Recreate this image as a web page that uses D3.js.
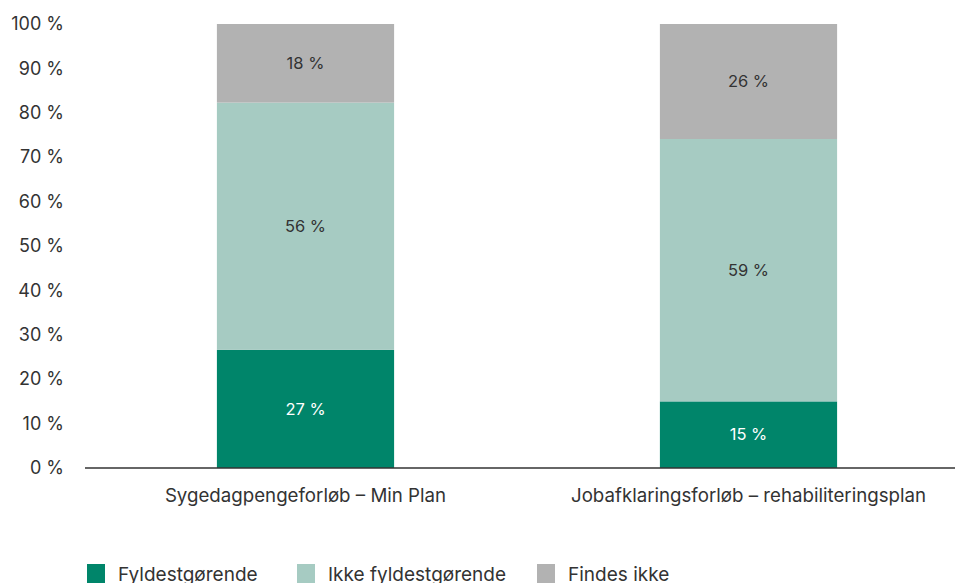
<!DOCTYPE html>
<html><head><meta charset="utf-8">
<script src="https://cdn.jsdelivr.net/npm/d3@7"></script>
<style>
html,body{margin:0;padding:0;background:#fff;}
svg{display:block;font-family:Inter, "Liberation Sans", sans-serif;}
</style></head>
<body>
<svg id="chart" width="955" height="583"></svg>
<script>
const categories = ["Sygedagpengeforløb – Min Plan", "Jobafklaringsforløb – rehabiliteringsplan"];
const seriesNames = ["Fyldestgørende", "Ikke fyldestgørende", "Findes ikke"];
const fyldestgorende = [26.6, 15.0];
const ikkeFyldestgorende = [55.7, 59.1];
const findesIkke = [17.7, 25.9];
const yTicks = [0, 10, 20, 30, 40, 50, 60, 70, 80, 90, 100];
const colors = ["#00856a", "#a6cbc2", "#b2b2b2"];
const labelColors = ["#ffffff", "#333333", "#333333"];

const seriesValues = [fyldestgorende, ikkeFyldestgorende, findesIkke];
const rows = categories.map((c, i) => {
  const r = {cat: c};
  seriesNames.forEach((s, j) => r[s] = seriesValues[j][i]);
  return r;
});
const stack = d3.stack().keys(seriesNames)(rows);

const svg = d3.select("#chart");
const x = d3.scaleBand().domain(categories).range([84, 970]).paddingInner(0.6).paddingOuter(0.3);
const y = d3.scaleLinear().domain([0, 100]).range([468, 24]);

// bars
const g = svg.append("g");
stack.forEach((layer, j) => {
  g.selectAll(null).data(layer).enter().append("rect")
    .attr("x", d => x(d.data.cat))
    .attr("width", x.bandwidth())
    .attr("y", d => y(d[1]))
    .attr("height", d => y(d[0]) - y(d[1]))
    .attr("fill", colors[j]);
  g.selectAll(null).data(layer).enter().append("text")
    .attr("x", d => x(d.data.cat) + x.bandwidth() / 2)
    .attr("y", d => (y(d[0]) + y(d[1])) / 2)
    .attr("dy", "0.35em")
    .attr("text-anchor", "middle")
    .attr("font-size", 16.5)
    .attr("fill", labelColors[j])
    .text(d => Math.round(d[1] - d[0]) + " %");
});

// y axis
const yAxis = d3.axisLeft(y).tickValues(yTicks).tickSize(0).tickPadding(0).tickFormat(d => d + " %");
const ya = svg.append("g").attr("transform", "translate(64,0)").call(yAxis);
ya.select(".domain").remove();
ya.selectAll("text").attr("font-size", 18).attr("fill", "#333").attr("font-family", "Inter, sans-serif");

// x axis
const xAxis = d3.axisBottom(x).tickSize(0).tickPadding(21);
const xa = svg.append("g").attr("transform", "translate(0,468)").call(xAxis);
xa.select(".domain").attr("stroke", "#333").attr("stroke-width", 1.3).attr("d", "M85,0H955");
xa.selectAll("text").attr("font-size", 18.7).attr("fill", "#333").attr("font-family", "Inter, sans-serif");

// legend
const legendX = [87, 297, 537];
const lg = svg.append("g");
seriesNames.forEach((s, j) => {
  lg.append("rect").attr("x", legendX[j]).attr("y", 564).attr("width", 18).attr("height", 19).attr("fill", colors[j]);
  lg.append("text").attr("x", legendX[j] + 31).attr("y", 581).attr("font-size", 19).attr("fill", "#333").text(s);
});
</script>
</body></html>
